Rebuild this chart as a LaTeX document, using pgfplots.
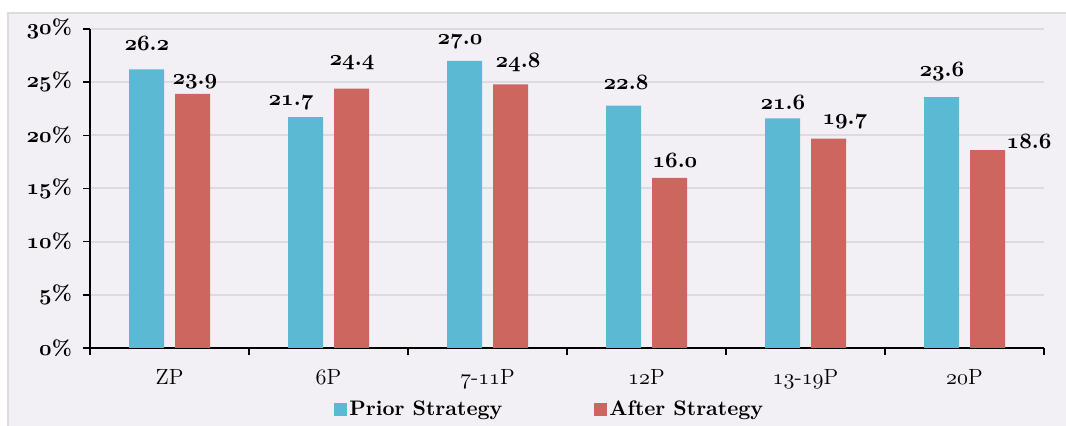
\documentclass[border=0pt]{standalone}
\usepackage{pgfplots}
\pgfplotsset{compat=1.18}
\definecolor{bgc}{RGB}{242,240,245}
\definecolor{framec}{RGB}{220,219,223}
\definecolor{gridc}{RGB}{221,219,225}
\definecolor{cbar}{RGB}{91,185,211}
\definecolor{rbar}{RGB}{205,102,95}
\newcommand\osf[1]{$\mathnormal{#1}$}
\begin{document}
\begin{tikzpicture}[x=1pt,y=1pt]
\useasboundingbox (0,0) rectangle (533,213);
\fill[white] (0,0) rectangle (533,213);
\filldraw[fill=bgc, draw=framec, line width=1pt] (4,-10) rectangle (545,206.5);
\begin{axis}[
  at={(45pt,39pt)}, anchor=south west,
  scale only axis, width=477pt, height=159.5pt,
  xmin=-0.5, xmax=5.5, ymin=0, ymax=30,
  axis lines=left,
  axis line style={-, black, line width=0.75pt},
  every outer x axis line/.append style={-},
  every outer y axis line/.append style={-},
  ybar=5.5pt, bar width=17.5pt,
  xtick={0,...,5},
  xticklabels={ZP, \osf{6}P, \osf{7}-\osf{11}P, \osf{12}P, \osf{13}-\osf{19}P, \osf{20}P},
  major x tick style={draw=none},
  minor xtick={-0.5,0.5,...,5.5},
  minor x tick style={black, line width=0.75pt},
  minor tick length=3.5pt,
  ytick={0,5,...,30},
  yticklabels={\osf{0}\%, \osf{5}\%, \osf{10}\%, \osf{15}\%, \osf{20}\%, \osf{25}\%, \osf{30}\%},
  major y tick style={black, line width=0.75pt},
  major tick length=3.5pt,
  tick align=outside,
  ymajorgrids,
  grid style={gridc, line width=1pt},
  yticklabel style={font=\boldmath\bfseries\fontsize{10.5}{12}\selectfont, anchor=east, xshift=-2pt},
  xticklabel style={font=\fontsize{11}{13}\selectfont, yshift=-3.5pt},
  legend columns=2,
  legend image code/.code={\fill[#1] (0pt,-3.25pt) rectangle (6.5pt,3.25pt);},
  legend style={draw=none, fill=none, at={(0.482,-0.194)}, anchor=center,
    font=\bfseries\fontsize{10.5}{12}\selectfont,
    nodes={inner sep=1pt},
    /tikz/every even column/.append style={column sep=45pt}},
  clip=false,
]
\addplot[fill=cbar, draw=none] coordinates {(0,26.2) (1,21.7) (2,27.0) (3,22.8) (4,21.6) (5,23.6)};
\addplot[fill=rbar, draw=none] coordinates {(0,23.9) (1,24.4) (2,24.8) (3,16.0) (4,19.7) (5,18.6)};
\legend{Prior Strategy, After Strategy}
\tikzset{lab/.style={font=\boldmath\bfseries\fontsize{10.5}{12}\selectfont, inner sep=0pt, anchor=center}}
\node[lab] at (axis cs:-0.142,28.6) {\osf{26.2}};
\node[lab] at (axis cs:0.160,25.0) {\osf{23.9}};
\node[lab] at (axis cs:0.764,23.05) {\osf{21.7}};
\node[lab] at (axis cs:1.148,26.8) {\osf{24.4}};
\node[lab] at (axis cs:1.827,28.8) {\osf{27.0}};
\node[lab] at (axis cs:2.192,26.8) {\osf{24.8}};
\node[lab] at (axis cs:2.871,25.0) {\osf{22.8}};
\node[lab] at (axis cs:3.179,17.6) {\osf{16.0}};
\node[lab] at (axis cs:3.858,23.1) {\osf{21.6}};
\node[lab] at (axis cs:4.248,21.26) {\osf{19.7}};
\node[lab] at (axis cs:4.858,25.96) {\osf{23.6}};
\node[lab] at (axis cs:5.406,19.38) {\osf{18.6}};
\end{axis}
\end{tikzpicture}
\end{document}
